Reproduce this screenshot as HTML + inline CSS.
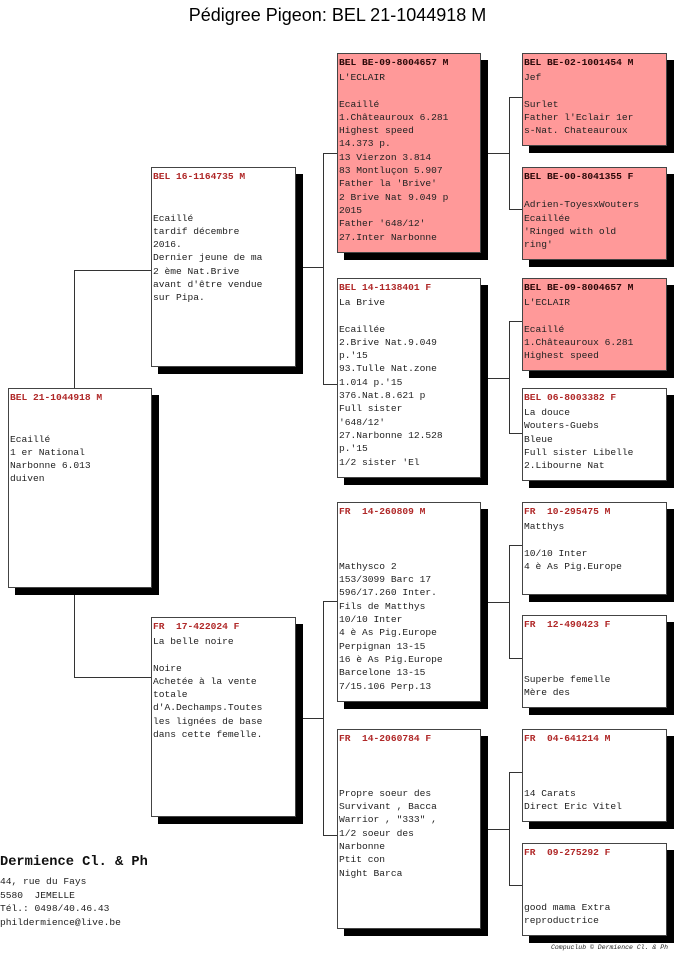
<!DOCTYPE html>
<html><head><meta charset="utf-8"><style>
body{margin:0;width:675px;height:970px;background:#fff;position:relative;overflow:hidden;font-family:"Liberation Mono",monospace;}
.t{position:absolute;left:0;width:675px;top:5px;text-align:center;font:18px "Liberation Sans",sans-serif;color:#000;}
.b{position:absolute;background:#fff;border:1px solid #444;box-shadow:7px 7px 0 #000;font-size:9.6px;color:#222;line-height:13.3px;padding-left:1px;box-sizing:border-box;white-space:pre;overflow:hidden}
.b .h{font-weight:bold;color:#b02828;line-height:17px;height:17px}
.p{background:#ff9999}
.p .h{color:#2a0808}
.l{position:absolute;background:#333}
.g1{left:8px;width:144px;height:200px}
.g2{left:151px;width:145px;height:200px}
.g3{left:337px;width:144px;height:200px}
.g4{left:522px;width:145px;height:93px}
</style></head><body>
<div class="t">Pédigree Pigeon: BEL 21-1044918 M</div>

<div class="l" style="left:74px;top:270px;width:1px;height:118px"></div>
<div class="l" style="left:74px;top:270px;width:77px;height:1px"></div>
<div class="l" style="left:74px;top:594px;width:1px;height:84px"></div>
<div class="l" style="left:74px;top:677px;width:77px;height:1px"></div>

<div class="l" style="left:296px;top:267px;width:27px;height:1px"></div>
<div class="l" style="left:323px;top:153px;width:1px;height:232px"></div>
<div class="l" style="left:323px;top:153px;width:14px;height:1px"></div>
<div class="l" style="left:323px;top:384px;width:14px;height:1px"></div>

<div class="l" style="left:296px;top:718px;width:27px;height:1px"></div>
<div class="l" style="left:323px;top:601px;width:1px;height:235px"></div>
<div class="l" style="left:323px;top:601px;width:14px;height:1px"></div>
<div class="l" style="left:323px;top:835px;width:14px;height:1px"></div>

<div class="l" style="left:481px;top:153px;width:28px;height:1px"></div>
<div class="l" style="left:509px;top:97px;width:1px;height:113px"></div>
<div class="l" style="left:509px;top:97px;width:13px;height:1px"></div>
<div class="l" style="left:509px;top:209px;width:13px;height:1px"></div>

<div class="l" style="left:481px;top:378px;width:28px;height:1px"></div>
<div class="l" style="left:509px;top:321px;width:1px;height:113px"></div>
<div class="l" style="left:509px;top:321px;width:13px;height:1px"></div>
<div class="l" style="left:509px;top:433px;width:13px;height:1px"></div>

<div class="l" style="left:481px;top:602px;width:28px;height:1px"></div>
<div class="l" style="left:509px;top:545px;width:1px;height:114px"></div>
<div class="l" style="left:509px;top:545px;width:13px;height:1px"></div>
<div class="l" style="left:509px;top:658px;width:13px;height:1px"></div>

<div class="l" style="left:481px;top:829px;width:28px;height:1px"></div>
<div class="l" style="left:509px;top:772px;width:1px;height:114px"></div>
<div class="l" style="left:509px;top:772px;width:13px;height:1px"></div>
<div class="l" style="left:509px;top:885px;width:13px;height:1px"></div>

<div class="b g1" style="top:388px"><div class="h">BEL 21-1044918 M</div>

Ecaillé
1 er National
Narbonne 6.013
duiven</div>

<div class="b g2" style="top:167px"><div class="h">BEL 16-1164735 M</div>

Ecaillé
tardif décembre
2016.
Dernier jeune de ma
2 ème Nat.Brive
avant d'être vendue
sur Pipa.</div>
<div class="b g2" style="top:617px"><div class="h">FR  17-422024 F</div>La belle noire

Noire
Achetée à la vente
totale
d'A.Dechamps.Toutes
les lignées de base
dans cette femelle.</div>

<div class="b g3 p" style="top:53px"><div class="h">BEL BE-09-8004657 M</div>L'ECLAIR

Ecaillé
1.Châteauroux 6.281
Highest speed
14.373 p.
13 Vierzon 3.814
83 Montluçon 5.907
Father la 'Brive'
2 Brive Nat 9.049 p
2015
Father '648/12'
27.Inter Narbonne</div>
<div class="b g3" style="top:278px"><div class="h">BEL 14-1138401 F</div>La Brive

Ecaillée
2.Brive Nat.9.049
p.'15
93.Tulle Nat.zone
1.014 p.'15
376.Nat.8.621 p
Full sister
'648/12'
27.Narbonne 12.528
p.'15
1/2 sister 'El</div>
<div class="b g3" style="top:502px"><div class="h">FR  14-260809 M</div>


Mathysco 2
153/3099 Barc 17
596/17.260 Inter.
Fils de Matthys
10/10 Inter
4 è As Pig.Europe
Perpignan 13-15
16 è As Pig.Europe
Barcelone 13-15
7/15.106 Perp.13</div>
<div class="b g3" style="top:729px"><div class="h">FR  14-2060784 F</div>


Propre soeur des
Survivant , Bacca
Warrior , "333" ,
1/2 soeur des
Narbonne
Ptit con
Night Barca</div>

<div class="b g4 p" style="top:53px"><div class="h">BEL BE-02-1001454 M</div>Jef

Surlet
Father l'Eclair 1er
s-Nat. Chateauroux</div>
<div class="b g4 p" style="top:167px"><div class="h">BEL BE-00-8041355 F</div>
Adrien-ToyesxWouters
Ecaillée
'Ringed with old
ring'</div>
<div class="b g4 p" style="top:278px"><div class="h">BEL BE-09-8004657 M</div>L'ECLAIR

Ecaillé
1.Châteauroux 6.281
Highest speed</div>
<div class="b g4" style="top:388px"><div class="h">BEL 06-8003382 F</div>La douce
Wouters-Guebs
Bleue
Full sister Libelle
2.Libourne Nat</div>
<div class="b g4" style="top:502px"><div class="h">FR  10-295475 M</div>Matthys

10/10 Inter
4 è As Pig.Europe</div>
<div class="b g4" style="top:615px"><div class="h">FR  12-490423 F</div>


Superbe femelle
Mère des</div>
<div class="b g4" style="top:729px"><div class="h">FR  04-641214 M</div>


14 Carats
Direct Eric Vitel</div>
<div class="b g4" style="top:843px"><div class="h">FR  09-275292 F</div>


good mama Extra
reproductrice</div>

<div style="position:absolute;left:0;top:855px;font-size:13.7px;font-weight:bold;color:#111;white-space:pre">Dermience Cl. &amp; Ph</div>
<div style="position:absolute;left:0;top:875px;font-size:9.6px;line-height:13.5px;color:#222;white-space:pre">44, rue du Fays
5580  JEMELLE
Tél.: 0498/40.46.43
phildermience@live.be</div>
<div style="position:absolute;left:551px;top:944px;font-size:6.5px;font-style:italic;color:#222;white-space:pre">Compuclub © Dermience Cl. &amp; Ph</div>
</body></html>
